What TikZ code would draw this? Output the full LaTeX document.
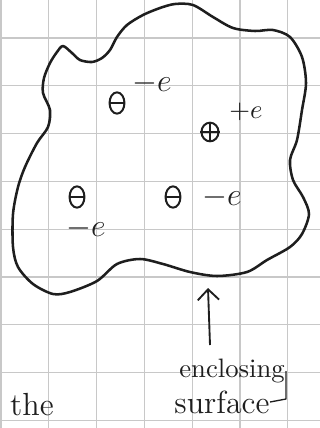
\documentclass[tikz,border=0pt]{standalone}
\usetikzlibrary{shapes.geometric,arrows.meta}
\definecolor{GridClr}{RGB}{200,200,200}
\definecolor{InkClr}{RGB}{30,30,30}

\tikzset{
  gridline/.style={GridClr,line width=0.4pt},
  surfline/.style={InkClr,line width=0.95pt,line join=round},
  chargebox/.style={ellipse,draw=InkClr,line width=0.75pt,inner sep=0pt,
                    minimum width=5.6pt,minimum height=8pt},
  chargesign/.style={InkClr,line width=0.7pt},
  chargelbl/.style={InkClr,inner sep=0pt,font=\large},
  wordlbl/.style={InkClr,inner sep=0pt},
}

\begin{document}
\begin{tikzpicture}[x=0.375pt,y=-0.375pt]
\useasboundingbox (0,0) rectangle (320,428);

% squared paper
\foreach \gx in {1,48.8,96.6,144.4,192.2,240,287.8}
  \draw[gridline] (\gx,0) -- (\gx,428);
\foreach \gy in {38,85.8,133.6,181.4,229.2,277,324.8,372.6,420.4}
  \draw[gridline] (0,\gy) -- (320,\gy);

% the surface
\draw[surfline] plot[smooth cycle,tension=0.5] coordinates {
  (63,46) (72,53) (80,60) (92,62) (102,58) (110,50) (117,37) (127,25)
  (143,15) (160,8) (175,4) (193,5) (213,17) (233,28) (255,31) (273,30)
  (290,37) (302,57) (306,83) (302,110) (297,140) (290,160) (293,180)
  (303,197) (309,214) (302,234) (290,247) (267,260) (247,272) (217,276)
  (190,272) (163,264) (140,259) (117,264) (97,281) (70,292) (53,294)
  (33,284) (18,267) (13,247) (13,214) (18,187) (25,167) (37,143)
  (48,127) (50,110) (43,93) (44,78) (50,63) (57,52)};

% charges
\node[chargebox] (q1) at (117,103) {};
\node[chargebox,minimum width=6.4pt,minimum height=7pt] (q2) at (210,132) {};
\node[chargebox] (q3) at (77,197) {};
\node[chargebox] (q4) at (173,197) {};

\foreach \q in {q1,q2,q3,q4}
  \draw[chargesign] (\q.west) -- (\q.east);
\draw[chargesign] (q2.north) -- (q2.south);

\node[chargelbl] (l1) at (152,83) {$-e$};
\node[chargelbl,font=\normalsize] (l2) at (246,112) {$+e$};
\node[chargelbl] (l3) at (86,228) {$-e$};
\node[chargelbl] (l4) at (222,197) {$-e$};

% labels at the bottom
\node[wordlbl] (enc) at (232,371) {enclosing};
\node[wordlbl,font=\large] (surf) at (222,402) {surface};
\node[wordlbl,font=\large] (the) at (32,405) {the};

\coordinate (tail) at (210,345);
\coordinate (tip) at (208,288);
\coordinate (brk) at (286,399);

\draw[surfline,line width=0.7pt,-{Straight Barb[length=4pt]}] (tail) -- (tip);
\draw[surfline,line width=0.5pt] (surf.east) -- (brk) -- (brk |- enc.east);

\end{tikzpicture}
\end{document}
